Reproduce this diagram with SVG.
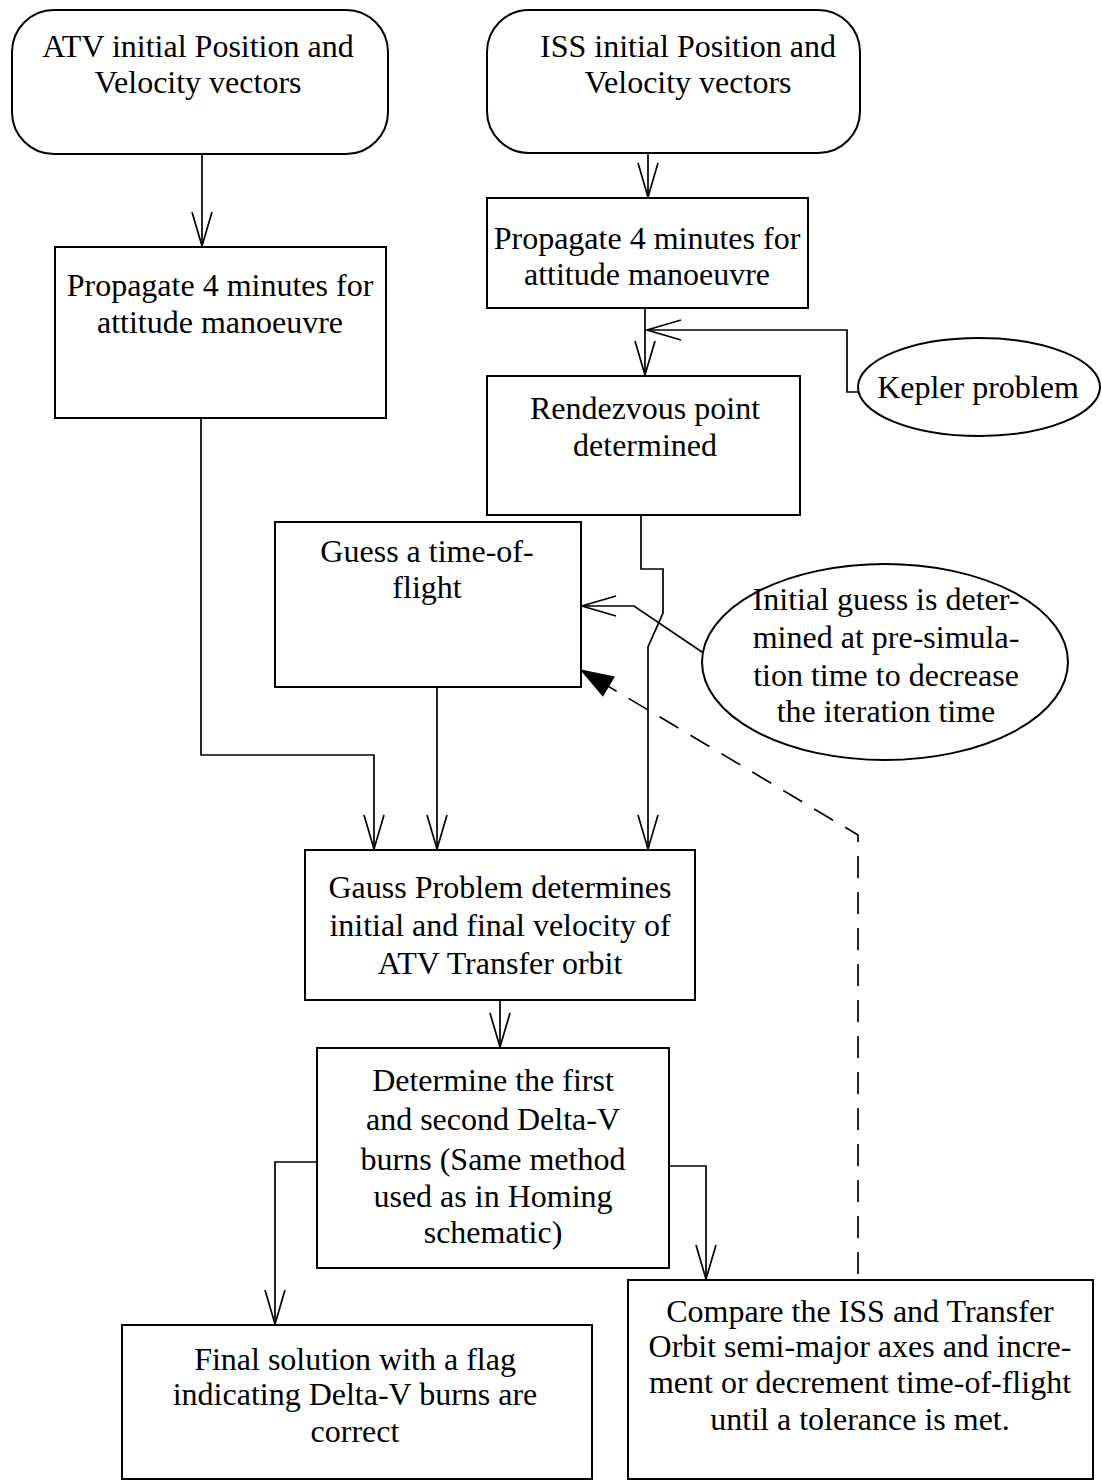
<svg xmlns="http://www.w3.org/2000/svg" width="1102" height="1482" viewBox="0 0 1102 1482">
<style>
.box{fill:#fff;stroke:#000;stroke-width:2}
.t{font-family:"Liberation Serif","Times New Roman",serif;font-size:32px;fill:#000;text-anchor:middle}
.c{fill:none;stroke:#000;stroke-width:1.7}
.d{fill:none;stroke:#000;stroke-width:1.7;stroke-dasharray:22 14}
</style>
<defs>
<marker id="v" markerUnits="userSpaceOnUse" viewBox="-40 -14 44 28" markerWidth="44" markerHeight="28" refX="0" refY="0" orient="auto" overflow="visible">
<path d="M-34,-10 L0,0 L-34,10" fill="none" stroke="#000" stroke-width="1.7"/>
</marker>
<marker id="f" markerUnits="userSpaceOnUse" viewBox="-40 -14 44 28" markerWidth="44" markerHeight="28" refX="0" refY="0" orient="auto" overflow="visible">
<path d="M-32,-11 L0,0 L-32,11 Z" fill="#000" stroke="#000" stroke-width="1"/>
</marker>
</defs>
<rect width="1102" height="1482" fill="#fff"/>
<g id="connectors">
<path class="c" d="M202,154 L202,246" marker-end="url(#v)"/>
<path class="c" d="M648,153 L648,197" marker-end="url(#v)"/>
<path class="c" d="M645,308 L645,375" marker-end="url(#v)"/>
<path class="c" d="M858,392 L847,392 L847,330 L647,330" marker-end="url(#v)"/>
<path class="c" d="M201,418 L201,755 L374,755 L374,849" marker-end="url(#v)"/>
<path class="c" d="M437,670 L437,849" marker-end="url(#v)"/>
<path class="c" d="M641,515 L641,569 L663,569 L663,613 L648,647 L648,849" marker-end="url(#v)"/>
<path class="c" d="M702,652 L634,606 L582,606" marker-end="url(#v)"/>
<path class="d" d="M858,1310 L858,835 L581,670" marker-end="url(#f)"/>
<path class="c" d="M500,1000 L500,1047" marker-end="url(#v)"/>
<path class="c" d="M317,1162 L275,1162 L275,1324" marker-end="url(#v)"/>
<path class="c" d="M669,1166 L706,1166 L706,1279" marker-end="url(#v)"/>
</g>
<g id="atv-initial">
<rect class="box" x="12" y="10" width="376" height="144" rx="42" ry="42"/>
<text class="t" x="198" y="57">ATV initial Position and</text>
<text class="t" x="198" y="93">Velocity vectors</text>
</g>
<g id="iss-initial">
<rect class="box" x="487" y="10" width="373" height="143" rx="42" ry="42"/>
<text class="t" x="688" y="57">ISS initial Position and</text>
<text class="t" x="688" y="93">Velocity vectors</text>
</g>
<g id="atv-propagate">
<rect class="box" x="55" y="247" width="331" height="171"/>
<text class="t" x="220" y="296">Propagate 4 minutes for</text>
<text class="t" x="220" y="333">attitude manoeuvre</text>
</g>
<g id="iss-propagate">
<rect class="box" x="487" y="198" width="321" height="110"/>
<text class="t" x="647" y="249">Propagate 4 minutes for</text>
<text class="t" x="647" y="285">attitude manoeuvre</text>
</g>
<g id="kepler">
<ellipse class="box" cx="979" cy="387" rx="121" ry="49"/>
<text class="t" x="978" y="398">Kepler problem</text>
</g>
<g id="rendezvous">
<rect class="box" x="487" y="376" width="313" height="139"/>
<text class="t" x="645" y="419">Rendezvous point</text>
<text class="t" x="645" y="456">determined</text>
</g>
<g id="guess">
<rect class="box" x="275" y="522" width="306" height="165"/>
<text class="t" x="427" y="562">Guess a time-of-</text>
<text class="t" x="427" y="598">flight</text>
</g>
<g id="initial-guess">
<ellipse class="box" cx="885" cy="662" rx="183" ry="98"/>
<text class="t" x="886" y="610">Initial guess is deter-</text>
<text class="t" x="886" y="648">mined at pre-simula-</text>
<text class="t" x="886" y="686">tion time to decrease</text>
<text class="t" x="886" y="722">the iteration time</text>
</g>
<g id="gauss">
<rect class="box" x="305" y="850" width="390" height="150"/>
<text class="t" x="500" y="898">Gauss Problem determines</text>
<text class="t" x="500" y="936">initial and final velocity of</text>
<text class="t" x="500" y="974">ATV Transfer orbit</text>
</g>
<g id="determine">
<rect class="box" x="317" y="1048" width="352" height="220"/>
<text class="t" x="493" y="1091">Determine the first</text>
<text class="t" x="493" y="1130">and second Delta-V</text>
<text class="t" x="493" y="1170">burns (Same method</text>
<text class="t" x="493" y="1207">used as in Homing</text>
<text class="t" x="493" y="1243">schematic)</text>
</g>
<g id="final">
<rect class="box" x="122" y="1325" width="470" height="154"/>
<text class="t" x="355" y="1370">Final solution with a flag</text>
<text class="t" x="355" y="1405">indicating Delta-V burns are</text>
<text class="t" x="355" y="1442">correct</text>
</g>
<g id="compare">
<rect class="box" x="628" y="1280" width="465" height="199"/>
<text class="t" x="860" y="1322">Compare the ISS and Transfer</text>
<text class="t" x="860" y="1357">Orbit semi-major axes and incre-</text>
<text class="t" x="860" y="1393">ment or decrement time-of-flight</text>
<text class="t" x="860" y="1430">until a tolerance is met.</text>
</g>
</svg>
